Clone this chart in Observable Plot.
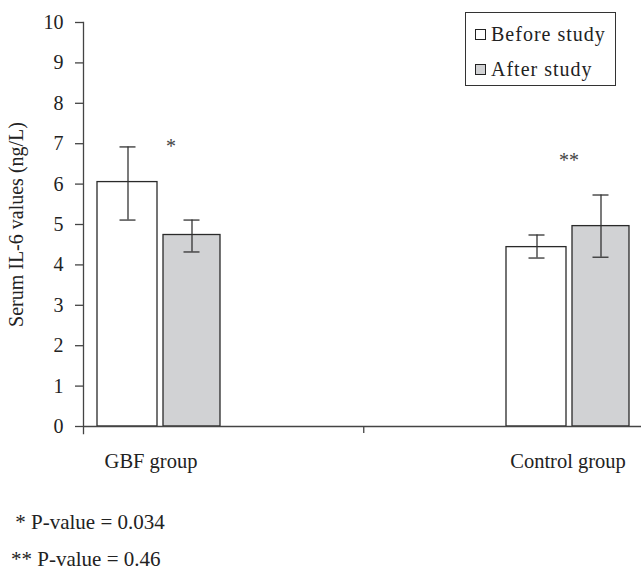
<!DOCTYPE html>
<html>
<head>
<meta charset="utf-8">
<script src="https://cdn.jsdelivr.net/npm/d3@7"></script>
<script src="https://cdn.jsdelivr.net/npm/@observablehq/plot@0.6"></script>
<style>
  html, body { margin: 0; padding: 0; background: #fff; }
  #wrap { position: relative; width: 641px; height: 571px; font-family: "Liberation Serif", "Times New Roman", serif; color: #222; overflow: hidden; }
  #legend { position: absolute; left: 465px; top: 12px; width: 151px; height: 74px; border: 1px solid #333; box-sizing: border-box; background: #fff; }
  .item { position: absolute; left: 9px; font-size: 20px; line-height: 20px; letter-spacing: 1px; white-space: nowrap; }
  .sw { display: inline-block; width: 11px; height: 11px; border: 1px solid #222; box-sizing: border-box; margin-right: 5px; vertical-align: 1px; }
  .note { position: absolute; font-size: 21px; line-height: 21px; white-space: pre; }
</style>
</head>
<body>
<div id="wrap">
  <div id="chart"></div>
  <div id="legend"></div>
  <div id="notes"></div>
</div>
<script>
const groups = ["GBF group", "Control group"];
const series = ["Before study", "After study"];
const seriesFill = ["#ffffff", "#d1d2d4"];
const beforeValues = [6.05, 4.44];
const beforeLow = [5.11, 4.17];
const beforeHigh = [6.92, 4.74];
const afterValues = [4.74, 4.96];
const afterLow = [4.32, 4.19];
const afterHigh = [5.11, 5.73];
const sigLabels = ["*", "**"];
const sigY = [6.93, 6.58];
const yTicks = [0, 1, 2, 3, 4, 5, 6, 7, 8, 9, 10];
const notes = [" * P-value = 0.034", "** P-value = 0.46"];

const beforeRows = groups.map((g, i) => ({group: g, value: beforeValues[i], lo: beforeLow[i], hi: beforeHigh[i]}));
const afterRows = groups.map((g, i) => ({group: g, value: afterValues[i], lo: afterLow[i], hi: afterHigh[i]}));
const sigRows = groups.map((g, i) => ({group: g, label: sigLabels[i], y: sigY[i]}));

const ink = "#2a2a2a";
const axisInk = "#444";

const chart = Plot.plot({
  width: 641,
  height: 480,
  marginLeft: 83,
  marginRight: 0,
  marginTop: 22,
  marginBottom: 54,
  style: {fontFamily: "Liberation Serif, Times New Roman, serif", fontSize: "20px", color: "#222", background: "white", overflow: "visible"},
  x: {type: "band", domain: groups, range: [83, 643], paddingInner: 0.7, paddingOuter: 0.034, align: 0.5},
  y: {domain: [0, 10]},
  marks: [
    Plot.barY(beforeRows, {x: "group", y: "value", fill: seriesFill[0], stroke: ink, strokeWidth: 1.3, insetRight: 63}),
    Plot.barY(afterRows, {x: "group", y: "value", fill: seriesFill[1], stroke: ink, strokeWidth: 1.3, insetLeft: 66}),
    Plot.ruleX(beforeRows, {x: "group", y1: "lo", y2: "hi", dx: -31, stroke: "#333", strokeWidth: 1.3}),
    Plot.tickY(beforeRows, {x: "group", y: "lo", dx: -31, insetLeft: 53.5, insetRight: 53.5, stroke: "#333", strokeWidth: 1.3}),
    Plot.tickY(beforeRows, {x: "group", y: "hi", dx: -31, insetLeft: 53.5, insetRight: 53.5, stroke: "#333", strokeWidth: 1.3}),
    Plot.ruleX(afterRows, {x: "group", y1: "lo", y2: "hi", dx: 33, stroke: "#333", strokeWidth: 1.3}),
    Plot.tickY(afterRows, {x: "group", y: "lo", dx: 33, insetLeft: 53.5, insetRight: 53.5, stroke: "#333", strokeWidth: 1.3}),
    Plot.tickY(afterRows, {x: "group", y: "hi", dx: 33, insetLeft: 53.5, insetRight: 53.5, stroke: "#333", strokeWidth: 1.3}),
    Plot.ruleY([0], {stroke: axisInk, strokeWidth: 1.3}),
    Plot.frame({anchor: "left", insetBottom: -7, stroke: axisInk, strokeWidth: 1.3}),
    Plot.ruleX([groups[0]], {x: d => d, y1: 0, y2: 0, insetBottom: -7, dx: 204.75, stroke: axisInk, strokeWidth: 1.3}),
    Plot.axisY({ticks: yTicks, tickSize: 8, tickPadding: 12, stroke: axisInk, strokeWidth: 1.3, label: "Serum IL-6 values (ng/L)", labelAnchor: "center", labelOffset: 75, labelArrow: "none", fontSize: 20}),
    Plot.axisX({ticks: [groups[0]], tickSize: 0, tickPadding: 27, label: null, fontSize: 20.5, dx: -8}),
    Plot.axisX({ticks: [groups[1]], tickSize: 0, tickPadding: 27, label: null, fontSize: 20.5}),
    Plot.text(sigRows.slice(0, 1), {x: "group", y: "y", text: "label", dx: 12, fontSize: 20, fill: "#444"}),
    Plot.text(sigRows.slice(1), {x: "group", y: "y", text: "label", dx: 1, fontSize: 20, fill: "#444"})
  ]
});
document.getElementById("chart").appendChild(chart);

const legend = document.getElementById("legend");
const rowTops = [11, 46];
series.forEach((s, i) => {
  const d = document.createElement("div");
  d.className = "item";
  d.style.top = rowTops[i] + "px";
  const sw = document.createElement("span");
  sw.className = "sw";
  sw.style.background = seriesFill[i];
  d.appendChild(sw);
  d.appendChild(document.createTextNode(s));
  legend.appendChild(d);
});

const notesEl = document.getElementById("notes");
const noteLeft = [10, 11];
const noteTop = [512, 549];
notes.forEach((t, i) => {
  const d = document.createElement("div");
  d.className = "note";
  d.style.left = noteLeft[i] + "px";
  d.style.top = noteTop[i] + "px";
  d.textContent = t;
  notesEl.appendChild(d);
});
</script>
</body>
</html>
